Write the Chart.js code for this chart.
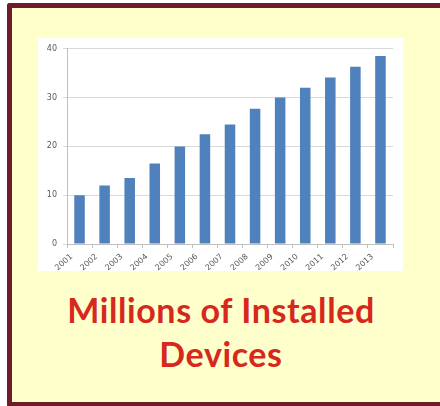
<!DOCTYPE html>
<html>
<head>
<meta charset="utf-8">
<script src="https://cdn.jsdelivr.net/npm/chart.js@4.4.1/dist/chart.umd.min.js"></script>
<style>
  html, body { margin: 0; padding: 0; background: #ffffff; overflow: hidden; }
  body { width: 440px; height: 406px; position: relative; }
  .frame {
    position: absolute; left: 7px; top: 3px; width: 520px; height: 394px;
    border: 5px solid #6e1b2c; border-right: none; border-radius: 3px 0 0 3px; background: #ffffcc;
  }
  .chartBox {
    position: absolute; left: 38px; top: 38px; width: 365px; height: 233px; background: #ffffff;
  }
  .caption {
    position: absolute; left: 12px; width: 418px; top: 288px;
    text-align: center; font-family: Lato, sans-serif; font-weight: bold;
    font-size: 34px; line-height: 44px; letter-spacing: 0.6px; color: #d6281d;
  }
</style>
</head>
<body>
<div class="frame"></div>
<div class="chartBox"><canvas id="chart"></canvas></div>
<div class="caption">Millions of Installed<br>Devices</div>
<script>
// installed devices per year, millions
const years = ["2001", "2002", "2003", "2004", "2005", "2006", "2007", "2008", "2009", "2010", "2011", "2012", "2013"];
const devices = [10, 12, 13.5, 16.5, 20, 22.5, 24.5, 27.7, 30, 32, 34.1, 36.3, 38.5];
const yTicks = [0, 10, 20, 30, 40];

const ctx = document.getElementById("chart");
new Chart(ctx, {
    type: "bar",
    data: {
        labels: years,
        datasets: [{
            label: "Millions of Installed Devices",
            data: devices,
            backgroundColor: "#4f81bd",
            borderWidth: 0,
            categoryPercentage: 1,
            barPercentage: 0.42,
        }],
    },
    options: {
        responsive: true,
        maintainAspectRatio: false,
        animation: false,
        layout: { padding: { top: 8, right: 10, bottom: 0, left: 0 } },
        plugins: {
            legend: { display: false },
            tooltip: { enabled: false },
        },
        scales: {
            x: {
                grid: { drawOnChartArea: false, tickLength: 4, color: "#bfbfbf" },
                border: { color: "#bfbfbf" },
                ticks: {
                    color: "#595959",
                    font: { family: "DejaVu Sans", size: 8 },
                    maxRotation: 42,
                    minRotation: 42,
                    padding: 4,
                    labelOffset: -8,
                },
                afterFit: (scale) => { scale.height = 27; },
            },
            y: {
                min: 0,
                max: 40,
                grid: { color: "#d9d9d9", tickLength: 4 },
                border: { color: "#bfbfbf" },
                afterBuildTicks: (scale) => { scale.ticks = yTicks.map((v) => ({ value: v })); },
                ticks: {
                    color: "#595959",
                    font: { family: "DejaVu Sans", size: 8 },
                    padding: 6,
                },
                afterFit: (scale) => { scale.width = 29; },
            },
        },
    },
});
</script>
</body>
</html>
